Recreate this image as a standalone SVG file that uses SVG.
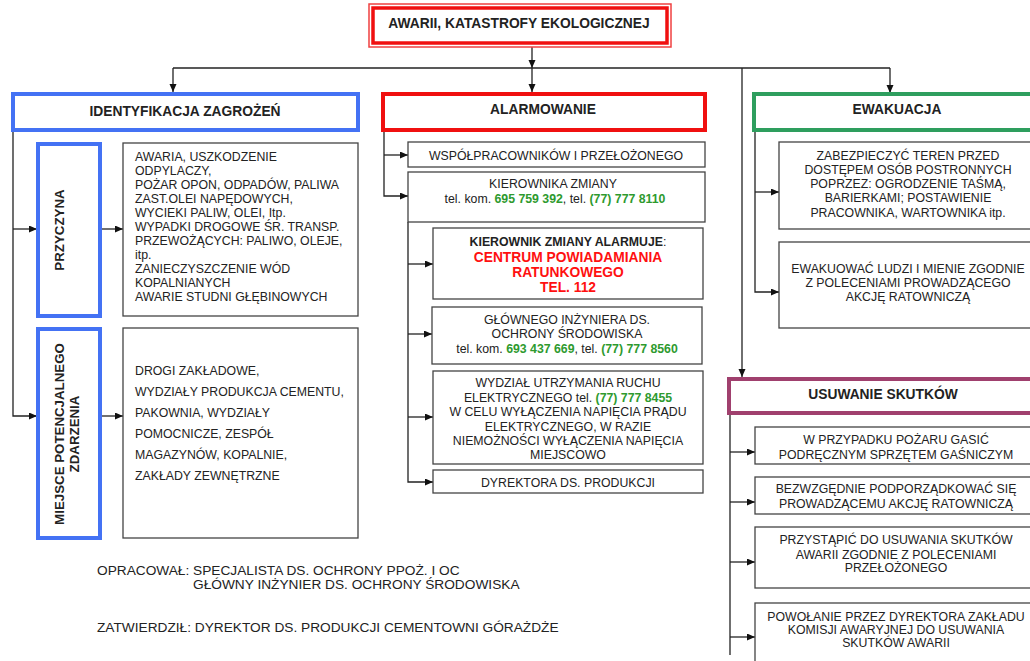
<svg xmlns="http://www.w3.org/2000/svg" width="1030" height="661" viewBox="0 0 1030 661">
<defs>
<marker id="ah" markerUnits="userSpaceOnUse" markerWidth="9" markerHeight="8" refX="8" refY="3.5" orient="auto">
<path d="M0,0 L8,3.5 L0,7 z" fill="#111"/>
</marker>
<style>
text{font-family:"Liberation Sans",Arial,sans-serif;fill:#222;font-size:12.3px}
.h{font-weight:bold;font-size:13.8px;text-anchor:middle}
.v{font-weight:bold;font-size:13.3px;text-anchor:middle}
.c{text-anchor:middle}
.g{fill:#2e9a2e;font-weight:bold}
.r{fill:#ff1010;font-weight:bold;font-size:13.8px}
.f{font-size:13.7px}
.box{fill:#fff;stroke:#444;stroke-width:1.3}
.blue{fill:#fff;stroke:#4472f4;stroke-width:4}
.red{fill:#fff;stroke:#f01010;stroke-width:4}
.green{fill:#fff;stroke:#2e9e5e;stroke-width:4}
.purple{fill:#fff;stroke:#a0406e;stroke-width:4}
.ln{fill:none;stroke:#222;stroke-width:1.3}
.a{fill:none;stroke:#222;stroke-width:1.3;marker-end:url(#ah)}
</style>
</defs>
<rect width="1030" height="661" fill="#fff"/>

<g id="connectors">
<path class="a" d="M532,43 V68"/>
<path class="ln" d="M173,68 H890"/>
<path class="a" d="M532,68 V92"/>
<path class="a" d="M173,68 V92"/>
<path class="a" d="M890,68 V93"/>
<path class="a" d="M742,68 V377"/>
<path class="a" d="M13,130 V416 H37"/>
<path class="a" d="M13,229 H37"/>
<path class="a" d="M100,229 H123"/>
<path class="a" d="M100,416 H123"/>
<path class="a" d="M384,130 V196 H408"/>
<path class="a" d="M384,155 H408"/>
<path class="a" d="M408,222 V482 H433"/>
<path class="a" d="M408,264 H433"/>
<path class="a" d="M408,334 H432"/>
<path class="a" d="M408,417 H433"/>
<path class="a" d="M755,130 V292 H779"/>
<path class="a" d="M755,192 H779"/>
<path class="ln" d="M730,413 V655"/>
<path class="a" d="M730,452 H755"/>
<path class="a" d="M730,502 H755"/>
<path class="a" d="M730,562 H755"/>
<path class="a" d="M730,637 H755"/>
</g>

<g id="top">
<rect x="369" y="4" width="302" height="43" fill="#fff" stroke="#f04040" stroke-width="1.5"/>
<rect x="373" y="8" width="294" height="35" fill="none" stroke="#f01010" stroke-width="3.5"/>
<text class="h" x="519" y="28">AWARII, KATASTROFY EKOLOGICZNEJ</text>
</g>

<g id="identyfikacja">
<rect class="blue" x="13" y="94" width="345" height="36"/>
<text class="h" x="185" y="116">IDENTYFIKACJA ZAGROŻEŃ</text>
</g>

<g id="przyczyna">
<rect class="blue" x="38" y="144" width="62" height="172"/>
<text class="v" transform="translate(64,230) rotate(-90)">PRZYCZYNA</text>
</g>

<g id="przyczyna-list">
<rect class="box" x="123" y="143" width="235" height="173"/>
<text x="135" y="161">AWARIA, USZKODZENIE</text>
<text x="135" y="175">ODPYLACZY,</text>
<text x="135" y="189">POŻAR OPON, ODPADÓW, PALIWA</text>
<text x="135" y="203">ZAST.OLEI NAPĘDOWYCH,</text>
<text x="135" y="217">WYCIEKI PALIW, OLEI, Itp.</text>
<text x="135" y="231">WYPADKI DROGOWE ŚR. TRANSP.</text>
<text x="135" y="245">PRZEWOŻĄCYCH: PALIWO, OLEJE,</text>
<text x="135" y="259">itp.</text>
<text x="135" y="273">ZANIECZYSZCZENIE WÓD</text>
<text x="135" y="287">KOPALNIANYCH</text>
<text x="135" y="301">AWARIE STUDNI GŁĘBINOWYCH</text>
</g>

<g id="miejsce">
<rect class="blue" x="38" y="329" width="62" height="209"/>
<text class="v" transform="translate(64,434) rotate(-90)">MIEJSCE POTENCJALNEGO</text>
<text class="v" transform="translate(79,434) rotate(-90)">ZDARZENIA</text>
</g>

<g id="miejsce-list">
<rect class="box" x="123" y="328" width="235" height="210"/>
<text x="135" y="375">DROGI ZAKŁADOWE,</text>
<text x="135" y="396">WYDZIAŁY PRODUKCJA CEMENTU,</text>
<text x="135" y="417">PAKOWNIA, WYDZIAŁY</text>
<text x="135" y="438">POMOCNICZE, ZESPÓŁ</text>
<text x="135" y="459">MAGAZYNÓW, KOPALNIE,</text>
<text x="135" y="480">ZAKŁADY ZEWNĘTRZNE</text>
</g>

<g id="alarmowanie">
<rect class="red" x="383" y="94" width="322" height="36"/>
<text class="h" x="543" y="114">ALARMOWANIE</text>
</g>

<g id="wspolpracownikow">
<rect class="box" x="408" y="142" width="297" height="25"/>
<text class="c" x="556" y="160">WSPÓŁPRACOWNIKÓW I PRZEŁOŻONEGO</text>
</g>

<g id="kierownika">
<rect class="box" x="408" y="172" width="297" height="50"/>
<text class="c" x="553" y="188">KIEROWNIKA ZMIANY</text>
<text class="c" x="555" y="203">tel. kom. <tspan class="g">695 759 392</tspan>, tel. <tspan class="g">(77) 777 8110</tspan></text>
</g>

<g id="centrum">
<rect class="box" x="433" y="228" width="270" height="71"/>
<text class="c" x="568" y="246"><tspan font-weight="bold">KIEROWNIK ZMIANY ALARMUJE</tspan>:</text>
<text class="c r" x="568" y="262">CENTRUM POWIADAMIANIA</text>
<text class="c r" x="568" y="277">RATUNKOWEGO</text>
<text class="c r" x="568" y="292">TEL. 112</text>
</g>

<g id="glownego">
<rect class="box" x="432" y="307" width="270" height="57"/>
<text class="c" x="567" y="324">GŁÓWNEGO INŻYNIERA DS.</text>
<text class="c" x="567" y="338">OCHRONY ŚRODOWISKA</text>
<text class="c" x="567" y="353">tel. kom. <tspan class="g">693 437 669</tspan>, tel. <tspan class="g">(77) 777 8560</tspan></text>
</g>

<g id="wydzial">
<rect class="box" x="433" y="371" width="270" height="93"/>
<text class="c" x="568" y="387">WYDZIAŁ UTRZYMANIA RUCHU</text>
<text class="c" x="568" y="402">ELEKTRYCZNEGO tel.  <tspan class="g">(77) 777 8455</tspan></text>
<text class="c" x="568" y="416">W CELU WYŁĄCZENIA NAPIĘCIA PRĄDU</text>
<text class="c" x="568" y="431">ELEKTRYCZNEGO, W RAZIE</text>
<text class="c" x="568" y="445">NIEMOŻNOŚCI WYŁĄCZENIA NAPIĘCIA</text>
<text class="c" x="568" y="459">MIEJSCOWO</text>
</g>

<g id="dyrektora">
<rect class="box" x="433" y="470" width="270" height="23"/>
<text class="c" x="568" y="487">DYREKTORA DS. PRODUKCJI</text>
</g>

<g id="ewakuacja">
<rect class="green" x="754" y="94" width="290" height="36"/>
<text class="h" x="897" y="114">EWAKUACJA</text>
</g>

<g id="zabezpieczyc">
<rect class="box" x="779" y="142" width="265" height="87"/>
<text class="c" x="908" y="160">ZABEZPIECZYĆ TEREN PRZED</text>
<text class="c" x="908" y="174">DOSTĘPEM OSÓB POSTRONNYCH</text>
<text class="c" x="908" y="188">POPRZEZ: OGRODZENIE TAŚMĄ,</text>
<text class="c" x="908" y="202">BARIERKAMI; POSTAWIENIE</text>
<text class="c" x="908" y="217">PRACOWNIKA, WARTOWNIKA itp.</text>
</g>

<g id="ewakuowac">
<rect class="box" x="779" y="242" width="265" height="86"/>
<text class="c" x="908" y="273">EWAKUOWAĆ LUDZI I MIENIE ZGODNIE</text>
<text class="c" x="908" y="287">Z POLECENIAMI PROWADZĄCEGO</text>
<text class="c" x="908" y="301">AKCJĘ RATOWNICZĄ</text>
</g>

<g id="usuwanie">
<rect class="purple" x="729" y="379" width="315" height="34"/>
<text class="h" x="883" y="399">USUWANIE SKUTKÓW</text>
</g>

<g id="gasic">
<rect class="box" x="755" y="427" width="289" height="37"/>
<text class="c" x="896" y="444">W PRZYPADKU POŻARU GASIĆ</text>
<text class="c" x="896" y="459">PODRĘCZNYM SPRZĘTEM GAŚNICZYM</text>
</g>

<g id="bezwzglednie">
<rect class="box" x="755" y="477" width="289" height="37"/>
<text class="c" x="896" y="493">BEZWZGĘDNIE PODPORZĄDKOWAĆ SIĘ</text>
<text class="c" x="896" y="508">PROWADZĄCEMU AKCJĘ RATOWNICZĄ</text>
</g>

<g id="przystapic">
<rect class="box" x="755" y="527" width="289" height="61"/>
<text class="c" x="896" y="544">PRZYSTĄPIĆ DO USUWANIA SKUTKÓW</text>
<text class="c" x="896" y="559">AWARII ZGODNIE Z POLECENIAMI</text>
<text class="c" x="896" y="572">PRZEŁOŻONEGO</text>
</g>

<g id="powolanie">
<rect class="box" x="755" y="603" width="289" height="70"/>
<text class="c" x="896" y="621">POWOŁANIE PRZEZ DYREKTORA ZAKŁADU</text>
<text class="c" x="896" y="634">KOMISJI AWARYJNEJ DO USUWANIA</text>
<text class="c" x="896" y="647">SKUTKÓW AWARII</text>
</g>

<g id="footer">
<text class="f" x="97" y="575">OPRACOWAŁ: SPECJALISTA DS. OCHRONY PPOŻ. I OC</text>
<text class="f" x="193" y="589">GŁÓWNY INŻYNIER DS. OCHRONY ŚRODOWISKA</text>
<text class="f" x="97" y="632">ZATWIERDZIŁ: DYREKTOR DS. PRODUKCJI CEMENTOWNI GÓRAŻDŻE</text>
</g>
</svg>
